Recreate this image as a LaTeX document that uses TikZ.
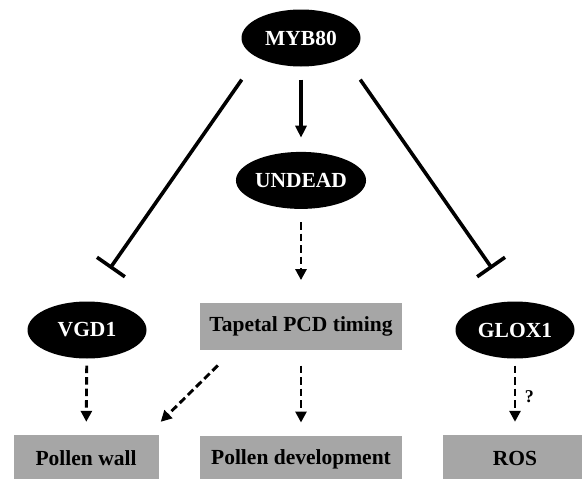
\documentclass[tikz,border=0pt]{standalone}
\usepackage{fontspec}
\setmainfont{Liberation Serif}
\usetikzlibrary{shapes.geometric, arrows.meta, positioning}
\definecolor{boxgray}{HTML}{A6A6A6}

\begin{document}
\begin{tikzpicture}[x=1pt, y=-1pt,
      font=\bfseries\fontsize{21.5}{25}\selectfont,
      gene/.style={ellipse, fill=black, text=white, minimum width=119pt, minimum height=57pt, inner sep=0pt},
      box/.style={rectangle, fill=boxgray, minimum height=47pt, inner sep=0pt},
      arr/.style={-{Triangle[length=12pt, width=11pt]}, line width=3.4pt},
      darr/.style={-{Triangle[length=11pt, width=11pt]}, line width=2.9pt, dash pattern=on 7.5pt off 4pt},
      inh/.style={-{Bar[width=34pt]}, line width=3.6pt}
    ]
      \useasboundingbox (0,0) rectangle (582,479);

      \node[gene] (myb) at (301,38) {MYB80};
      \node[gene, below=85pt of myb] (undead) {UNDEAD};
      \node[box, minimum width=202pt, below=94pt of undead] (tap) {Tapetal PCD timing};

      \node[gene] (vgd) at (87,330) {VGD1};
      \node[gene] (glox) at (515,330) {GLOX1};

      \node[box, minimum width=202pt, below=85pt of tap] (dev) {Pollen development};
      \node[box, minimum width=145pt] (wall) at (86,458.5) {Pollen wall};
      \node[box, minimum width=145pt] (ros) at (515,458.5) {ROS};

      \draw[arr, shorten <=13pt, shorten >=14pt] (myb) -- (undead);
      \draw[inh, shorten <=27pt, shorten >=40pt] (myb.204.5) -- (vgd.north);
      \draw[inh, shorten <=27pt, shorten >=40pt] (myb.-24.5) -- (glox.north);

      \draw[darr, shorten <=13pt, shorten >=23pt] (undead) -- (tap);
      \draw[darr, shorten <=7pt, shorten >=13pt] (vgd) -- (wall);
      \draw[darr, shorten <=15pt, shorten >=13pt] (tap) -- (dev);
      \draw[darr] ([xshift=18pt, yshift=-15pt]tap.south west) -- ([xshift=2pt, yshift=13pt]wall.north east);
      \draw[darr, shorten <=7pt, shorten >=13pt] (glox) -- (ros)
        node[midway, right=5pt, font=\bfseries\fontsize{18}{20}\selectfont] (q) {?};
    \end{tikzpicture}
\end{document}
